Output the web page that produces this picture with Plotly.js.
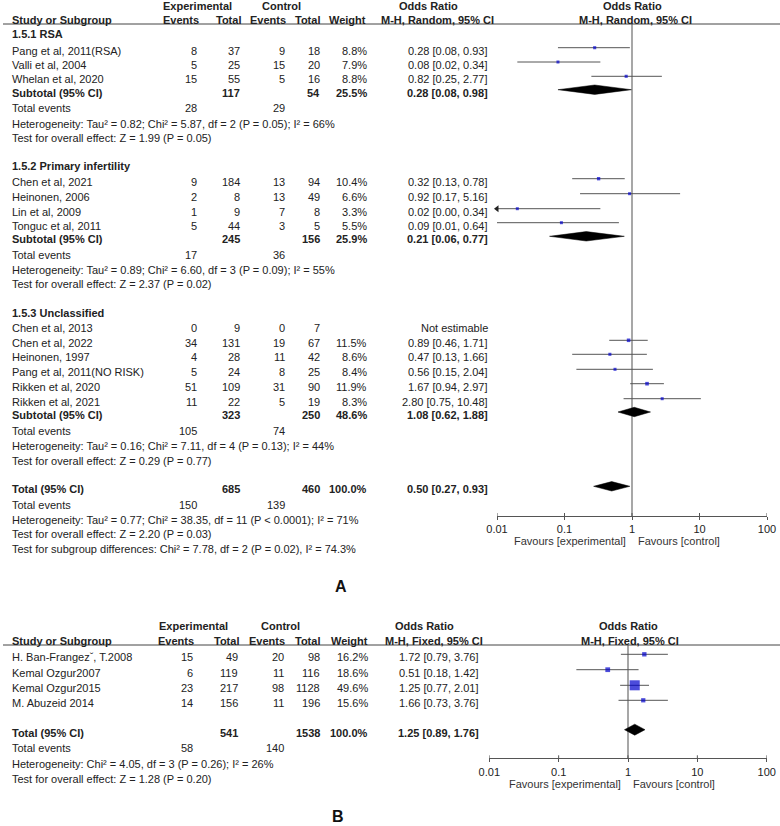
<!DOCTYPE html>
<html><head><meta charset="utf-8">
<script src="https://cdn.plot.ly/plotly-3.0.1.min.js"></script>
<style>html,body{margin:0;padding:0;background:#fff}</style>
</head><body><div id="chart" style="width:780px;height:826px"></div>
<script>
// ================= DATA: panel A =================
const groupNamesA = ['1.5.1 RSA', '1.5.2 Primary infertility', '1.5.3 Unclassified'];
const studiesA = ['Pang et al, 2011(RSA)', 'Valli et al, 2004', 'Whelan et al, 2020',
  'Chen et al, 2021', 'Heinonen, 2006', 'Lin et al, 2009', 'Tonguc et al, 2011',
  'Chen et al, 2013', 'Chen et al, 2022', 'Heinonen, 1997', 'Pang et al, 2011(NO RISK)',
  'Rikken et al, 2020', 'Rikken et al, 2021'];
const groupOfA = [0, 0, 0, 1, 1, 1, 1, 2, 2, 2, 2, 2, 2];
const expEventsA = [8, 5, 15, 9, 2, 1, 5, 0, 34, 4, 5, 51, 11];
const expTotalA = [37, 25, 55, 184, 8, 9, 44, 9, 131, 28, 24, 109, 22];
const ctrlEventsA = [9, 15, 5, 13, 13, 7, 3, 0, 19, 11, 8, 31, 5];
const ctrlTotalA = [18, 20, 16, 94, 49, 8, 5, 7, 67, 42, 25, 90, 19];
const weightA = [8.8, 7.9, 8.8, 10.4, 6.6, 3.3, 5.5, null, 11.5, 8.6, 8.4, 11.9, 8.3];
const orA = [0.28, 0.08, 0.82, 0.32, 0.92, 0.02, 0.09, null, 0.89, 0.47, 0.56, 1.67, 2.80];
const loA = [0.08, 0.02, 0.25, 0.13, 0.17, 0.00, 0.01, null, 0.46, 0.13, 0.15, 0.94, 0.75];
const hiA = [0.93, 0.34, 2.77, 0.78, 5.16, 0.34, 0.64, null, 1.71, 1.66, 2.04, 2.97, 10.48];

const subExpTotalA = [117, 245, 323];
const subCtrlTotalA = [54, 156, 250];
const subWeightA = [25.5, 25.9, 48.6];
const subOrA = [0.28, 0.21, 1.08];
const subLoA = [0.08, 0.06, 0.62];
const subHiA = [0.98, 0.77, 1.88];
const subExpEventsA = [28, 17, 105];
const subCtrlEventsA = [29, 36, 74];
const subHetA = ['Heterogeneity: Tau² = 0.82; Chi² = 5.87, df = 2 (P = 0.05); I² = 66%',
  'Heterogeneity: Tau² = 0.89; Chi² = 6.60, df = 3 (P = 0.09); I² = 55%',
  'Heterogeneity: Tau² = 0.16; Chi² = 7.11, df = 4 (P = 0.13); I² = 44%'];
const subTestA = ['Test for overall effect: Z = 1.99 (P = 0.05)',
  'Test for overall effect: Z = 2.37 (P = 0.02)',
  'Test for overall effect: Z = 0.29 (P = 0.77)'];

const totExpTotalA = 685, totCtrlTotalA = 460, totWeightA = 100.0;
const totOrA = 0.50, totLoA = 0.27, totHiA = 0.93;
const totExpEventsA = 150, totCtrlEventsA = 139;
const totTextsA = ['Heterogeneity: Tau² = 0.77; Chi² = 38.35, df = 11 (P < 0.0001); I² = 71%',
  'Test for overall effect: Z = 2.20 (P = 0.03)',
  'Test for subgroup differences: Chi² = 7.78, df = 2 (P = 0.02), I² = 74.3%'];

// ================= DATA: panel B =================
const studiesB = ['H. Ban-Frangezˇ, T.2008', 'Kemal Ozgur2007', 'Kemal Ozgur2015', 'M. Abuzeid 2014'];
const expEventsB = [15, 6, 23, 14];
const expTotalB = [49, 119, 217, 156];
const ctrlEventsB = [20, 11, 98, 11];
const ctrlTotalB = [98, 116, 1128, 196];
const weightB = [16.2, 18.6, 49.6, 15.6];
const orB = [1.72, 0.51, 1.25, 1.66];
const loB = [0.79, 0.18, 0.77, 0.73];
const hiB = [3.76, 1.42, 2.01, 3.76];
const totExpTotalB = 541, totCtrlTotalB = 1538, totWeightB = 100.0;
const totOrB = 1.25, totLoB = 0.89, totHiB = 1.76;
const totExpEventsB = 58, totCtrlEventsB = 140;
const totTextsB = ['Heterogeneity: Chi² = 4.05, df = 3 (P = 0.26); I² = 26%',
  'Test for overall effect: Z = 1.28 (P = 0.20)'];

const tickVals = [0.01, 0.1, 1, 10, 100];
const tickLabels = ['0.01', '0.1', '1', '10', '100'];

// ================= LAYOUT (pixel positions) =================
const W = 780, H = 826;
const FONT = 'Liberation Sans, Arial, sans-serif';
const FS = 11;
const TXT = '#222';
const BLUE = '#0000cc';
const MARK_DY = -3;

// Panel A geometry
const A = {
  colName: 12, colExpEv: 197, colExpTot: 240, colCtrlEv: 285, colCtrlTot: 320, colW: 367, colOR: 488,
  head1: 5.5, head2: 20, rule: 24,
  groupY: [34, 166, 312.7],
  studyY: [50.7, 65, 79.3, 181.7, 196.7, 211.7, 225.7, 327.7, 343.3, 357.3, 372.3, 386.7, 401.7],
  subY: [92.7, 239.3, 415], evY: [108, 255, 430.7], hetY: [124, 270, 446], testY: [137.7, 284.3, 461],
  totY: 489.3, totEvY: 505, totTextY: [520, 534.3, 549],
  axisY: 516, plotL: 497, plotR: 767, favY: 540.7, favL: 626, favR: 638,
  label: 'A', labelX: 341, labelY: 586, dHalf: 4.7
};
// Panel B geometry
const B = {
  colName: 12, colExpEv: 193, colExpTot: 238, colCtrlEv: 284, colCtrlTot: 320, colW: 368, colOR: 479,
  head1: 625.7, head2: 640.7, rule: 645,
  studyY: [657.3, 672.7, 688.3, 703.3],
  totY: 732.7, totEvY: 748.3, totTextY: [764.3, 779.3],
  axisY: 758.3, plotL: 489.3, plotR: 766.7, favY: 784, favL: 621, favR: 633,
  label: 'B', labelX: 338, labelY: 816, dHalf: 5.5
};

const ann = [];
function txt(x, y, text, anchor, opt) {
  opt = opt || {};
  ann.push({
    xref: 'paper', yref: 'y', x: x / W, y: y, text: opt.bold ? '<b>' + text + '</b>' : text,
    xanchor: anchor, yanchor: 'middle', showarrow: false, borderpad: 0, borderwidth: 0,
    font: { family: FONT, size: opt.size || FS, color: opt.color || TXT }
  });
}
const fmt2 = v => v.toFixed(2);
const ciText = (o, l, h) => fmt2(o) + ' [' + fmt2(l) + ', ' + fmt2(h) + ']';
const pct = w => w.toFixed(1) + '%';
const markSize = w => Math.max(3, 1.6 + 0.17 * w);

// ---------- Headers ----------
txt(197, A.head1, 'Experimental', 'center', { bold: true });
txt(281, A.head1, 'Control', 'center', { bold: true });
txt(428, A.head1, 'Odds Ratio', 'center', { bold: true });
txt(632, A.head1, 'Odds Ratio', 'center', { bold: true });
txt(A.colName, A.head2, 'Study or Subgroup', 'left', { bold: true });
txt(199, A.head2, 'Events', 'right', { bold: true });
txt(241, A.head2, 'Total', 'right', { bold: true });
txt(286, A.head2, 'Events', 'right', { bold: true });
txt(320, A.head2, 'Total', 'right', { bold: true });
txt(366, A.head2, 'Weight', 'right', { bold: true });
txt(437, A.head2, 'M-H, Random, 95% CI', 'center', { bold: true });
txt(635, A.head2, 'M-H, Random, 95% CI', 'center', { bold: true });

txt(193, B.head1, 'Experimental', 'center', { bold: true });
txt(280, B.head1, 'Control', 'center', { bold: true });
txt(425, B.head1, 'Odds Ratio', 'center', { bold: true });
txt(628, B.head1, 'Odds Ratio', 'center', { bold: true });
txt(B.colName, B.head2, 'Study or Subgroup', 'left', { bold: true });
txt(194, B.head2, 'Events', 'right', { bold: true });
txt(239, B.head2, 'Total', 'right', { bold: true });
txt(285, B.head2, 'Events', 'right', { bold: true });
txt(320, B.head2, 'Total', 'right', { bold: true });
txt(368, B.head2, 'Weight', 'right', { bold: true });
txt(433.5, B.head2, 'M-H, Fixed, 95% CI', 'center', { bold: true });
txt(630, B.head2, 'M-H, Fixed, 95% CI', 'center', { bold: true });

// ---------- Panel A table ----------
studiesA.forEach((s, i) => {
  const y = A.studyY[i];
  txt(A.colName, y, s, 'left');
  txt(A.colExpEv, y, String(expEventsA[i]), 'right');
  txt(A.colExpTot, y, String(expTotalA[i]), 'right');
  txt(A.colCtrlEv, y, String(ctrlEventsA[i]), 'right');
  txt(A.colCtrlTot, y, String(ctrlTotalA[i]), 'right');
  if (weightA[i] !== null) txt(A.colW, y, pct(weightA[i]), 'right');
  txt(A.colOR, y, orA[i] !== null ? ciText(orA[i], loA[i], hiA[i]) : 'Not estimable', 'right');
});
groupNamesA.forEach((g, k) => {
  txt(A.colName, A.groupY[k], g, 'left', { bold: true });
  txt(A.colName, A.subY[k], 'Subtotal (95% CI)', 'left', { bold: true });
  txt(A.colExpTot, A.subY[k], String(subExpTotalA[k]), 'right', { bold: true });
  txt(A.colCtrlTot, A.subY[k], String(subCtrlTotalA[k]), 'right', { bold: true });
  txt(A.colW, A.subY[k], pct(subWeightA[k]), 'right', { bold: true });
  txt(A.colOR, A.subY[k], ciText(subOrA[k], subLoA[k], subHiA[k]), 'right', { bold: true });
  txt(A.colName, A.evY[k], 'Total events', 'left');
  txt(A.colExpEv, A.evY[k], String(subExpEventsA[k]), 'right');
  txt(A.colCtrlEv, A.evY[k], String(subCtrlEventsA[k]), 'right');
  txt(A.colName, A.hetY[k], subHetA[k], 'left');
  txt(A.colName, A.testY[k], subTestA[k], 'left');
});
txt(A.colName, A.totY, 'Total (95% CI)', 'left', { bold: true });
txt(A.colExpTot, A.totY, String(totExpTotalA), 'right', { bold: true });
txt(A.colCtrlTot, A.totY, String(totCtrlTotalA), 'right', { bold: true });
txt(A.colW, A.totY, pct(totWeightA), 'right', { bold: true });
txt(A.colOR, A.totY, ciText(totOrA, totLoA, totHiA), 'right', { bold: true });
txt(A.colName, A.totEvY, 'Total events', 'left');
txt(A.colExpEv, A.totEvY, String(totExpEventsA), 'right');
txt(A.colCtrlEv, A.totEvY, String(totCtrlEventsA), 'right');
totTextsA.forEach((t, k) => txt(A.colName, A.totTextY[k], t, 'left'));

// ---------- Panel B table ----------
studiesB.forEach((s, i) => {
  const y = B.studyY[i];
  txt(B.colName, y, s, 'left');
  txt(B.colExpEv, y, String(expEventsB[i]), 'right');
  txt(B.colExpTot, y, String(expTotalB[i]), 'right');
  txt(B.colCtrlEv, y, String(ctrlEventsB[i]), 'right');
  txt(B.colCtrlTot, y, String(ctrlTotalB[i]), 'right');
  txt(B.colW, y, pct(weightB[i]), 'right');
  txt(B.colOR, y, ciText(orB[i], loB[i], hiB[i]), 'right');
});
txt(B.colName, B.totY, 'Total (95% CI)', 'left', { bold: true });
txt(B.colExpTot, B.totY, String(totExpTotalB), 'right', { bold: true });
txt(B.colCtrlTot, B.totY, String(totCtrlTotalB), 'right', { bold: true });
txt(B.colW, B.totY, pct(totWeightB), 'right', { bold: true });
txt(B.colOR, B.totY, ciText(totOrB, totLoB, totHiB), 'right', { bold: true });
txt(B.colName, B.totEvY, 'Total events', 'left');
txt(B.colExpEv, B.totEvY, String(totExpEventsB), 'right');
txt(B.colCtrlEv, B.totEvY, String(totCtrlEventsB), 'right');
totTextsB.forEach((t, k) => txt(B.colName, B.totTextY[k], t, 'left'));

// favours & panel labels
[A, B].forEach(P => {
  txt(P.favL, P.favY, 'Favours [experimental]', 'right', { color: '#333' });
  txt(P.favR, P.favY, 'Favours [control]', 'left', { color: '#333' });
  txt(P.labelX, P.labelY, P.label, 'center', { bold: true, size: 16, color: '#111' });
});

// ---------- Traces ----------
const traces = [];
function forest(P, xa, ors, los, his, ws, sY, diamonds, refTop) {
  const axMin = tickVals[0];
  // reference line at OR = 1
  traces.push({ type: 'scatter', mode: 'lines', xaxis: xa, yaxis: 'y', x: [1, 1], y: [refTop, P.axisY],
    line: { color: '#8a8a8a', width: 1.5 }, hoverinfo: 'skip' });
  // CI lines
  const lx = [], ly = [], arrX = [], arrY = [];
  ors.forEach((o, i) => {
    if (o === null) return;
    const y = sY[i] + MARK_DY;
    lx.push(Math.max(los[i], axMin), his[i], null);
    ly.push(y, y, null);
    if (los[i] < axMin) { arrX.push(axMin); arrY.push(y); }
  });
  traces.push({ type: 'scatter', mode: 'lines', xaxis: xa, yaxis: 'y', x: lx, y: ly,
    line: { color: '#555', width: 1 }, hoverinfo: 'skip' });
  if (arrX.length) traces.push({ type: 'scatter', mode: 'markers', xaxis: xa, yaxis: 'y', x: arrX, y: arrY,
    cliponaxis: false, marker: { symbol: 'triangle-left', size: 6, color: '#222' }, hoverinfo: 'skip' });
  // study squares
  const px = [], py = [], ps = [];
  ors.forEach((o, i) => { if (o !== null) { px.push(o); py.push(sY[i] + MARK_DY); ps.push(markSize(ws[i])); } });
  traces.push({ type: 'scatter', mode: 'markers', xaxis: xa, yaxis: 'y', x: px, y: py,
    marker: { symbol: 'square', size: ps, color: BLUE, line: { width: 0 } } });
  // diamonds
  const dx = [], dy = [];
  diamonds.forEach(d => {
    const y = d.y + MARK_DY, h = P.dHalf;
    dx.push(d.lo, d.or, d.hi, d.or, d.lo, null);
    dy.push(y, y - h, y, y + h, y, null);
  });
  traces.push({ type: 'scatter', mode: 'lines', xaxis: xa, yaxis: 'y', x: dx, y: dy, fill: 'toself',
    fillcolor: '#000', line: { color: '#000', width: 0.5 }, hoverinfo: 'skip' });
  // tick crossings
  const tx = [], ty = [];
  tickVals.forEach(v => { tx.push(v, v, null); ty.push(P.axisY - 3, P.axisY, null); });
  traces.push({ type: 'scatter', mode: 'lines', xaxis: xa, yaxis: 'y', x: tx, y: ty, cliponaxis: false,
    line: { color: '#555', width: 1 }, hoverinfo: 'skip' });
}
forest(A, 'x', orA, loA, hiA, weightA, A.studyY,
  subOrA.map((o, k) => ({ or: o, lo: subLoA[k], hi: subHiA[k], y: A.subY[k] }))
    .concat([{ or: totOrA, lo: totLoA, hi: totHiA, y: A.totY }]), A.rule);
forest(B, 'x2', orB, loB, hiB, weightB, B.studyY,
  [{ or: totOrB, lo: totLoB, hi: totHiB, y: B.totY }], B.rule);

function xaxisFor(P) {
  return {
    type: 'log', range: [Math.log10(tickVals[0]), Math.log10(tickVals[tickVals.length - 1])],
    domain: [P.plotL / W, P.plotR / W], anchor: 'free', position: 1 - P.axisY / H,
    showline: true, linecolor: '#555', linewidth: 1, ticks: 'outside', ticklen: 3, tickcolor: '#555',
    tickvals: tickVals, ticktext: tickLabels, showgrid: false, zeroline: false,
    tickfont: { family: FONT, size: FS, color: TXT }, fixedrange: true
  };
}

const layout = {
  width: W, height: H, margin: { l: 0, r: 0, t: 0, b: 0 },
  paper_bgcolor: '#fff', plot_bgcolor: 'rgba(0,0,0,0)', showlegend: false,
  xaxis: xaxisFor(A), xaxis2: xaxisFor(B),
  yaxis: { range: [H, 0], domain: [0, 1], visible: false, fixedrange: true, anchor: 'x' },
  annotations: ann,
  shapes: [A, B].map(P => ({ type: 'line', xref: 'paper', yref: 'y', x0: 3 / W, x1: 1, y0: P.rule, y1: P.rule,
    line: { color: '#444', width: 1 } }))
};
Plotly.newPlot('chart', traces, layout, { staticPlot: true, displayModeBar: false });
</script></body></html>
